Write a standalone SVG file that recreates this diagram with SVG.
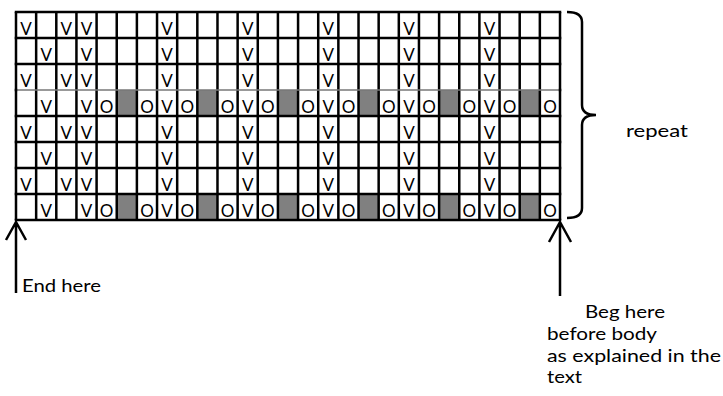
<svg xmlns="http://www.w3.org/2000/svg" width="723" height="396" viewBox="0 0 723 396">
<style>
.cell{font-family:Lato,"Open Sans",sans-serif;font-size:17px;fill:#000;text-anchor:middle}
.lbl{font-family:Lato,"Open Sans",sans-serif;font-size:17.5px;fill:#000}
.g{fill:#808080}
.ln{stroke:#000;stroke-width:2.5;fill:none}
</style>
<rect width="723" height="396" fill="#fff"/>
<g id="grid">
<g id="gray-cells">
<rect class="g" x="116.7" y="90" width="20.2" height="26"/><rect class="g" x="197.3" y="90" width="20.2" height="26"/><rect class="g" x="277.9" y="90" width="20.2" height="26"/><rect class="g" x="358.5" y="90" width="20.2" height="26"/><rect class="g" x="439.1" y="90" width="20.2" height="26"/><rect class="g" x="519.7" y="90" width="20.2" height="26"/>
<rect class="g" x="116.7" y="194" width="20.2" height="26"/><rect class="g" x="197.3" y="194" width="20.2" height="26"/><rect class="g" x="277.9" y="194" width="20.2" height="26"/><rect class="g" x="358.5" y="194" width="20.2" height="26"/><rect class="g" x="439.1" y="194" width="20.2" height="26"/><rect class="g" x="519.7" y="194" width="20.2" height="26"/>
</g>
<path class="ln" d="M16,12V220M36.15,12V220M56.3,12V220M76.44,12V220M96.59,12V220M116.74,12V220M136.89,12V220M157.04,12V220M177.18,12V220M197.33,12V220M217.48,12V220M237.63,12V220M257.78,12V220M277.92,12V220M298.07,12V220M318.22,12V220M338.37,12V220M358.52,12V220M378.66,12V220M398.81,12V220M418.96,12V220M439.11,12V220M459.26,12V220M479.4,12V220M499.55,12V220M519.7,12V220M539.85,12V220M560,12V220"/>
<path class="ln" d="M14.75,12H561.25M14.75,38H561.25M14.75,64H561.25M14.75,116H561.25M14.75,142H561.25M14.75,168H561.25M14.75,194H561.25M14.75,220H561.25"/>
<path d="M16,90H560" stroke="#777" stroke-width="1.5"/>
<path class="ln" d="M16,88.8V91.2M560,88.8V91.2"/>
</g>
<g id="cell-text" class="cell">
<text x="26.07" y="34.5">V</text><text x="26.07" y="86.5">V</text><text x="26.07" y="138.5">V</text><text x="26.07" y="190.5">V</text>
<text x="66.37" y="34.5">V</text><text x="66.37" y="86.5">V</text><text x="66.37" y="138.5">V</text><text x="66.37" y="190.5">V</text>
<text x="46.22" y="60.5">V</text><text x="46.22" y="112.5">V</text><text x="46.22" y="164.5">V</text><text x="46.22" y="216.5">V</text>
<text x="86.52" y="34.5">V</text><text x="86.52" y="60.5">V</text><text x="86.52" y="86.5">V</text><text x="86.52" y="112.5">V</text><text x="86.52" y="138.5">V</text><text x="86.52" y="164.5">V</text><text x="86.52" y="190.5">V</text><text x="86.52" y="216.5">V</text>
<text x="167.11" y="34.5">V</text><text x="167.11" y="60.5">V</text><text x="167.11" y="86.5">V</text><text x="167.11" y="112.5">V</text><text x="167.11" y="138.5">V</text><text x="167.11" y="164.5">V</text><text x="167.11" y="190.5">V</text><text x="167.11" y="216.5">V</text>
<text x="247.7" y="34.5">V</text><text x="247.7" y="60.5">V</text><text x="247.7" y="86.5">V</text><text x="247.7" y="112.5">V</text><text x="247.7" y="138.5">V</text><text x="247.7" y="164.5">V</text><text x="247.7" y="190.5">V</text><text x="247.7" y="216.5">V</text>
<text x="328.3" y="34.5">V</text><text x="328.3" y="60.5">V</text><text x="328.3" y="86.5">V</text><text x="328.3" y="112.5">V</text><text x="328.3" y="138.5">V</text><text x="328.3" y="164.5">V</text><text x="328.3" y="190.5">V</text><text x="328.3" y="216.5">V</text>
<text x="408.89" y="34.5">V</text><text x="408.89" y="60.5">V</text><text x="408.89" y="86.5">V</text><text x="408.89" y="112.5">V</text><text x="408.89" y="138.5">V</text><text x="408.89" y="164.5">V</text><text x="408.89" y="190.5">V</text><text x="408.89" y="216.5">V</text>
<text x="489.48" y="34.5">V</text><text x="489.48" y="60.5">V</text><text x="489.48" y="86.5">V</text><text x="489.48" y="112.5">V</text><text x="489.48" y="138.5">V</text><text x="489.48" y="164.5">V</text><text x="489.48" y="190.5">V</text><text x="489.48" y="216.5">V</text>
<text x="106.67" y="112.5">O</text><text x="146.96" y="112.5">O</text><text x="187.26" y="112.5">O</text><text x="227.56" y="112.5">O</text><text x="267.85" y="112.5">O</text><text x="308.15" y="112.5">O</text><text x="348.44" y="112.5">O</text><text x="388.74" y="112.5">O</text><text x="429.04" y="112.5">O</text><text x="469.33" y="112.5">O</text><text x="509.63" y="112.5">O</text><text x="549.93" y="112.5">O</text>
<text x="106.67" y="216.5">O</text><text x="146.96" y="216.5">O</text><text x="187.26" y="216.5">O</text><text x="227.56" y="216.5">O</text><text x="267.85" y="216.5">O</text><text x="308.15" y="216.5">O</text><text x="348.44" y="216.5">O</text><text x="388.74" y="216.5">O</text><text x="429.04" y="216.5">O</text><text x="469.33" y="216.5">O</text><text x="509.63" y="216.5">O</text><text x="549.93" y="216.5">O</text>
</g>
<g id="brace">
<path class="ln" d="M567,12 Q582,12 582,22 L582,105 Q582,115 596,115 Q582,115 582,125 L582,208 Q582,218 567,218"/>
</g>
<g id="connectors">
<path class="ln" d="M16,222V293M6,240L16,222L26,240"/>
<path class="ln" d="M560,222V296M549,242L560,222L571,242"/>
</g>
<g id="labels" class="lbl">
<text x="626" y="137" textLength="62" lengthAdjust="spacingAndGlyphs">repeat</text>
<text x="22" y="292" textLength="79" lengthAdjust="spacingAndGlyphs">End here</text>
<text x="585" y="318" textLength="80" lengthAdjust="spacingAndGlyphs">Beg here</text>
<text x="547" y="340" textLength="110" lengthAdjust="spacingAndGlyphs">before body</text>
<text x="547" y="361.5" textLength="174" lengthAdjust="spacingAndGlyphs">as explained in the</text>
<text x="547" y="383" textLength="35" lengthAdjust="spacingAndGlyphs">text</text>
</g>
</svg>
